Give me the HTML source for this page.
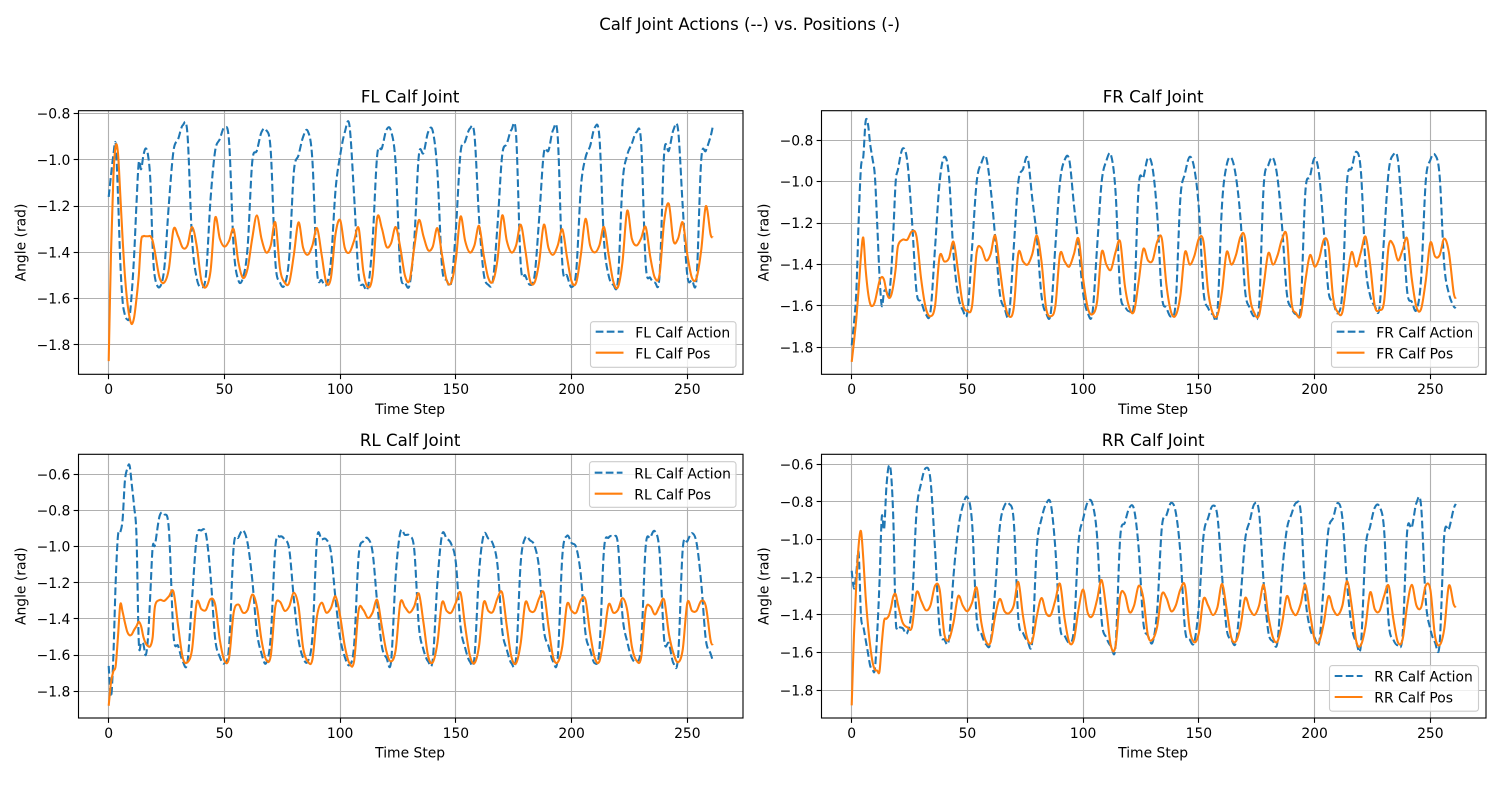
<!DOCTYPE html>
<html lang="en">
<head>
<meta charset="utf-8">
<title>Calf Joint Actions vs. Positions</title>
<style>
html,body{margin:0;padding:0;background:#fff;width:1500px;height:800px;overflow:hidden}
svg{display:block}
text{font-family:"DejaVu Sans","Liberation Sans",sans-serif;fill:#000}
</style>
</head>
<body>
<svg id="figure" xmlns="http://www.w3.org/2000/svg" width="1500" height="800" viewBox="0 0 1500 800">
<rect x="0" y="0" width="1500" height="800" fill="#fff"/>
<text x="749.7" y="30" font-size="16.55" text-anchor="middle">Calf Joint Actions (--) vs. Positions (-)</text>
</svg>
<script>
const xDomain = [-13.05, 274.05];
const xTicks = [0, 50, 100, 150, 200, 250];
const timeSteps = [];
for (let s = 0; s < 20; s += 1) timeSteps.push(s);
for (let s = 20; s <= 260; s += 2) timeSteps.push(s);
timeSteps.push(261);

const flYDomain = [-1.927, -0.787];
const frYDomain = [-1.930, -0.657];
const rlYDomain = [-1.948, -0.489];
const rrYDomain = [-1.947, -0.547];
const flYTicks = [-1.8, -1.6, -1.4, -1.2, -1.0, -0.8];
const frYTicks = [-1.8, -1.6, -1.4, -1.2, -1.0, -0.8];
const rlYTicks = [-1.8, -1.6, -1.4, -1.2, -1.0, -0.8, -0.6];
const rrYTicks = [-1.8, -1.6, -1.4, -1.2, -1.0, -0.8, -0.6];

const flAction = [
-1.16,-1.065,-0.98,-0.93,-1.15,-1.44,-1.61,-1.67,-1.69,-1.68,-1.57,-1.41,-1.19,-1.01,-1.04,-0.98,-0.95,-0.98,-1.09,-1.38,
-1.51,-1.55,-1.47,-1.19,-0.96,-0.91,-0.85,-0.885,-1.34,-1.51,
-1.55,-1.50,-1.17,-0.96,-0.91,-0.86,-0.92,-1.38,-1.52,-1.51,
-1.38,-1.01,-0.96,-0.88,-0.87,-0.96,-1.44,-1.53,-1.54,-1.42,
-1.05,-0.98,-0.90,-0.875,-1.0,-1.48,-1.52,-1.54,-1.44,-1.13,
-0.98,-0.88,-0.85,-1.15,-1.5,-1.54,-1.55,-1.35,-0.98,-0.95,
-0.87,-0.875,-1.02,-1.48,-1.53,-1.54,-1.35,-0.98,-0.97,-0.88,
-0.875,-1.05,-1.46,-1.52,-1.53,-1.3,-0.97,-0.92,-0.865,-0.89,
-1.25,-1.49,-1.54,-1.52,-1.28,-0.98,-0.93,-0.87,-0.89,-1.45,
-1.5,-1.54,-1.5,-1.25,-0.97,-0.96,-0.87,-0.9,-1.45,-1.5,
-1.55,-1.48,-1.12,-0.99,-0.94,-0.86,-0.9,-1.35,-1.5,-1.54,
-1.52,-1.1,-0.98,-0.93,-0.88,-0.92,-1.45,-1.51,-1.53,-1.5,
-0.97,-0.96,-0.87,-0.87,-1.2,-1.5,-1.52,-1.51,-1.0,-0.96,
-0.9,-0.855];
const flPos = [
-1.87,-1.4,-1.08,-0.94,-0.97,-1.15,-1.34,-1.5,-1.61,-1.68,-1.71,-1.68,-1.6,-1.5,-1.35,-1.33,-1.33,-1.33,-1.33,-1.35,
-1.4,-1.51,-1.53,-1.47,-1.30,-1.33,-1.38,-1.37,-1.29,-1.37,
-1.52,-1.55,-1.48,-1.25,-1.34,-1.375,-1.35,-1.30,-1.44,-1.51,
-1.47,-1.34,-1.24,-1.34,-1.40,-1.37,-1.27,-1.47,-1.53,-1.53,
-1.41,-1.27,-1.38,-1.41,-1.37,-1.295,-1.41,-1.53,-1.51,-1.32,
-1.26,-1.38,-1.40,-1.35,-1.295,-1.48,-1.55,-1.50,-1.25,-1.295,
-1.375,-1.36,-1.29,-1.38,-1.5,-1.52,-1.38,-1.26,-1.33,-1.39,
-1.375,-1.295,-1.41,-1.52,-1.53,-1.43,-1.245,-1.35,-1.40,-1.37,
-1.285,-1.41,-1.51,-1.525,-1.43,-1.24,-1.35,-1.40,-1.37,-1.28,
-1.39,-1.52,-1.53,-1.44,-1.28,-1.38,-1.41,-1.37,-1.30,-1.42,
-1.525,-1.53,-1.41,-1.255,-1.37,-1.40,-1.37,-1.29,-1.41,-1.525,
-1.55,-1.44,-1.22,-1.34,-1.37,-1.34,-1.29,-1.42,-1.51,-1.495,
-1.265,-1.19,-1.35,-1.34,-1.27,-1.41,-1.51,-1.51,-1.39,-1.2,
-1.32,-1.335];
const frAction = [
-1.79,-1.68,-1.53,-1.19,-0.93,-0.88,-0.71,-0.72,-0.82,-0.89,-0.97,-1.2,-1.45,-1.60,-1.53,-1.53,-1.555,-1.45,-1.24,-1.0,
-0.94,-0.84,-0.90,-1.18,-1.53,-1.58,-1.64,-1.63,-1.32,-1.0,
-0.88,-0.97,-1.35,-1.55,-1.62,-1.63,-1.32,-1.0,-0.91,-0.88,
-1.03,-1.27,-1.54,-1.61,-1.64,-1.32,-1.0,-0.94,-0.885,-1.08,
-1.27,-1.55,-1.635,-1.635,-1.31,-1.0,-0.895,-0.895,-1.11,-1.31,
-1.54,-1.635,-1.635,-1.32,-1.0,-0.90,-0.87,-1.05,-1.53,-1.60,
-1.625,-1.58,-1.02,-0.98,-0.885,-0.935,-1.16,-1.55,-1.61,-1.65,
-1.58,-1.08,-0.96,-0.88,-0.935,-1.13,-1.53,-1.61,-1.64,-1.63,
-1.11,-0.92,-0.885,-0.975,-1.18,-1.53,-1.61,-1.65,-1.6,-1.02,
-0.92,-0.885,-0.985,-1.225,-1.54,-1.61,-1.64,-1.6,-1.05,-0.975,
-0.885,-0.97,-1.24,-1.53,-1.58,-1.635,-1.53,-1.0,-0.935,-0.855,
-0.95,-1.40,-1.55,-1.6,-1.61,-1.27,-0.95,-0.87,-0.895,-1.18,
-1.53,-1.58,-1.62,-1.47,-1.0,-0.895,-0.87,-0.97,-1.40,-1.54,
-1.6,-1.61];
const frPos = [
-1.87,-1.77,-1.66,-1.52,-1.36,-1.27,-1.42,-1.53,-1.59,-1.60,-1.58,-1.53,-1.48,-1.46,-1.475,-1.53,-1.56,-1.55,-1.5,-1.42,
-1.31,-1.28,-1.28,-1.24,-1.265,-1.47,-1.61,-1.65,-1.6,-1.36,
-1.385,-1.37,-1.29,-1.435,-1.59,-1.625,-1.6,-1.34,-1.32,-1.38,
-1.35,-1.26,-1.42,-1.58,-1.65,-1.61,-1.345,-1.385,-1.4,-1.35,
-1.26,-1.385,-1.61,-1.65,-1.6,-1.35,-1.385,-1.41,-1.35,-1.275,
-1.47,-1.61,-1.64,-1.58,-1.34,-1.40,-1.425,-1.34,-1.29,-1.5,
-1.61,-1.625,-1.48,-1.325,-1.38,-1.38,-1.29,-1.275,-1.5,-1.63,
-1.645,-1.55,-1.34,-1.40,-1.36,-1.275,-1.29,-1.53,-1.635,-1.645,
-1.53,-1.34,-1.40,-1.355,-1.265,-1.275,-1.55,-1.635,-1.645,-1.5,
-1.345,-1.40,-1.355,-1.275,-1.265,-1.58,-1.635,-1.645,-1.48,-1.355,
-1.41,-1.37,-1.28,-1.31,-1.56,-1.63,-1.63,-1.47,-1.34,-1.41,
-1.34,-1.265,-1.40,-1.6,-1.62,-1.58,-1.31,-1.305,-1.38,-1.33,
-1.275,-1.47,-1.605,-1.615,-1.48,-1.295,-1.36,-1.355,-1.275,-1.34,
-1.53,-1.565];
const rlAction = [
-1.66,-1.83,-1.61,-1.2,-0.94,-0.92,-0.85,-0.635,-0.57,-0.55,-0.66,-0.78,-0.94,-1.53,-1.53,-1.54,-1.6,-1.5,-1.255,-1.0,
-0.99,-0.83,-0.82,-0.905,-1.49,-1.55,-1.635,-1.64,-1.29,-0.95,
-0.91,-0.93,-1.16,-1.51,-1.61,-1.645,-1.55,-1.0,-0.95,-0.91,
-0.98,-1.18,-1.47,-1.59,-1.645,-1.5,-1.0,-0.945,-0.96,-1.015,
-1.29,-1.515,-1.615,-1.635,-1.5,-0.96,-0.96,-0.96,-1.03,-1.29,
-1.505,-1.61,-1.655,-1.55,-1.05,-0.97,-0.955,-1.03,-1.31,-1.55,
-1.615,-1.635,-1.16,-0.92,-0.935,-0.94,-1.015,-1.44,-1.57,-1.635,
-1.625,-1.2,-0.935,-0.955,-0.985,-1.09,-1.44,-1.56,-1.635,-1.615,
-1.145,-0.935,-0.955,-0.985,-1.105,-1.46,-1.57,-1.645,-1.615,-1.09,
-0.95,-0.965,-0.995,-1.125,-1.46,-1.55,-1.635,-1.615,-1.05,-0.94,
-0.98,-1.005,-1.16,-1.48,-1.57,-1.645,-1.57,-1.015,-0.95,-0.945,
-0.985,-1.385,-1.525,-1.615,-1.635,-1.55,-1.0,-0.95,-0.915,-1.03,
-1.515,-1.535,-1.645,-1.61,-1.015,-0.97,-0.925,-0.98,-1.2,-1.515,
-1.59,-1.63];
const rlPos = [
-1.88,-1.75,-1.69,-1.66,-1.5,-1.32,-1.36,-1.42,-1.47,-1.49,-1.485,-1.46,-1.44,-1.415,-1.44,-1.5,-1.535,-1.55,-1.55,-1.5,
-1.33,-1.295,-1.30,-1.275,-1.25,-1.44,-1.615,-1.64,-1.57,-1.31,
-1.345,-1.35,-1.29,-1.32,-1.515,-1.63,-1.615,-1.365,-1.32,-1.365,
-1.35,-1.265,-1.33,-1.515,-1.625,-1.605,-1.33,-1.305,-1.355,-1.33,
-1.255,-1.33,-1.56,-1.635,-1.625,-1.385,-1.31,-1.365,-1.34,-1.275,
-1.385,-1.55,-1.645,-1.635,-1.35,-1.35,-1.395,-1.365,-1.295,-1.44,
-1.58,-1.635,-1.57,-1.31,-1.335,-1.365,-1.33,-1.26,-1.42,-1.605,
-1.64,-1.535,-1.31,-1.355,-1.365,-1.31,-1.255,-1.44,-1.6,-1.645,
-1.55,-1.31,-1.355,-1.36,-1.285,-1.255,-1.44,-1.61,-1.645,-1.535,
-1.31,-1.355,-1.355,-1.285,-1.255,-1.44,-1.61,-1.64,-1.55,-1.32,
-1.355,-1.365,-1.295,-1.295,-1.48,-1.615,-1.635,-1.495,-1.32,-1.365,
-1.35,-1.285,-1.35,-1.55,-1.63,-1.615,-1.35,-1.33,-1.375,-1.33,
-1.295,-1.48,-1.59,-1.64,-1.57,-1.31,-1.355,-1.355,-1.30,-1.33,
-1.515,-1.545];
const rrAction = [
-1.165,-1.26,-1.175,-1.07,-1.405,-1.46,-1.53,-1.6,-1.67,-1.69,-1.69,-1.5,-1.23,-0.88,-0.945,-0.72,-0.61,-0.65,-0.9,-1.42,
-1.46,-1.47,-1.495,-1.35,-0.855,-0.70,-0.62,-0.68,-1.05,-1.475,
-1.53,-1.53,-1.19,-0.945,-0.82,-0.775,-0.91,-1.42,-1.5,-1.555,
-1.545,-1.265,-0.93,-0.82,-0.81,-0.90,-1.42,-1.495,-1.54,-1.54,
-1.035,-0.89,-0.81,-0.81,-1.05,-1.46,-1.51,-1.545,-1.475,-1.015,
-0.89,-0.80,-0.81,-0.98,-1.43,-1.52,-1.565,-1.565,-0.99,-0.91,
-0.83,-0.84,-1.05,-1.44,-1.51,-1.545,-1.37,-0.935,-0.87,-0.805,
-0.855,-1.07,-1.475,-1.53,-1.545,-1.35,-0.98,-0.885,-0.82,-0.875,
-1.19,-1.475,-1.53,-1.545,-1.31,-1.0,-0.90,-0.81,-0.855,-1.23,
-1.49,-1.54,-1.54,-1.175,-0.945,-0.865,-0.805,-0.855,-1.30,-1.47,
-1.52,-1.545,-1.23,-0.945,-0.885,-0.805,-0.885,-1.23,-1.46,-1.545,
-1.56,-1.05,-0.93,-0.83,-0.825,-0.945,-1.44,-1.53,-1.56,-1.51,
-0.955,-0.935,-0.805,-0.82,-1.32,-1.475,-1.545,-1.555,-0.98,-0.945,
-0.84,-0.81];
const rrPos = [
-1.88,-1.5,-1.23,-1.03,-0.955,-1.1,-1.30,-1.45,-1.565,-1.65,-1.69,-1.695,-1.70,-1.55,-1.43,-1.42,-1.405,-1.36,-1.30,-1.29,
-1.345,-1.44,-1.465,-1.465,-1.28,-1.325,-1.375,-1.35,-1.245,-1.265,
-1.50,-1.53,-1.44,-1.30,-1.35,-1.38,-1.335,-1.255,-1.44,-1.54,
-1.545,-1.405,-1.315,-1.38,-1.39,-1.35,-1.225,-1.405,-1.53,-1.54,
-1.405,-1.31,-1.39,-1.40,-1.32,-1.235,-1.42,-1.545,-1.53,-1.37,
-1.265,-1.39,-1.405,-1.32,-1.215,-1.37,-1.565,-1.565,-1.30,-1.29,
-1.385,-1.35,-1.245,-1.31,-1.51,-1.53,-1.46,-1.29,-1.31,-1.38,
-1.35,-1.265,-1.245,-1.475,-1.545,-1.495,-1.315,-1.35,-1.40,-1.36,
-1.235,-1.37,-1.52,-1.54,-1.46,-1.31,-1.37,-1.40,-1.35,-1.24,
-1.405,-1.52,-1.54,-1.44,-1.30,-1.37,-1.40,-1.34,-1.24,-1.39,
-1.53,-1.54,-1.44,-1.30,-1.37,-1.40,-1.35,-1.22,-1.35,-1.54,
-1.56,-1.46,-1.28,-1.37,-1.38,-1.30,-1.245,-1.42,-1.545,-1.53,
-1.35,-1.24,-1.35,-1.36,-1.245,-1.265,-1.51,-1.56,-1.475,-1.245,
-1.34,-1.36];

const SVG_NS = 'http://www.w3.org/2000/svg';
const figure = document.getElementById('figure');
const BLUE = '#1f77b4', ORANGE = '#ff7f0e';

function mk(parent, tag, attrs, content) {
  const el = document.createElementNS(SVG_NS, tag);
  for (const k in attrs) el.setAttribute(k, attrs[k]);
  if (content !== undefined) el.textContent = content;
  parent.appendChild(el);
  return el;
}
const snap = v => Math.round(v - 0.5) + 0.5;
const fmtTick = v => (v < 0 ? '\u2212' : '') + Math.abs(v).toFixed(1);

// Smooth path through every data point (Catmull-Rom control points).
function smoothPath(px) {
  const f = n => n.toFixed(2);
  let d = 'M' + f(px[0][0]) + ' ' + f(px[0][1]);
  for (let i = 0; i < px.length - 1; i++) {
    const p0 = px[Math.max(i - 1, 0)], p1 = px[i], p2 = px[i + 1], p3 = px[Math.min(i + 2, px.length - 1)];
    const c1x = p1[0] + (p2[0] - p0[0]) / 6, c1y = p1[1] + (p2[1] - p0[1]) / 6;
    const c2x = p2[0] - (p3[0] - p1[0]) / 6, c2y = p2[1] - (p3[1] - p1[1]) / 6;
    d += 'C' + f(c1x) + ' ' + f(c1y) + ' ' + f(c2x) + ' ' + f(c2y) + ' ' + f(p2[0]) + ' ' + f(p2[1]);
  }
  return d;
}

function drawPanel(cfg) {
  const { key, label, left, right, top, bottom, yDomain, yTicks, action, pos, legend } = cfg;
  const xScale = v => left + (v - xDomain[0]) / (xDomain[1] - xDomain[0]) * (right - left);
  const yScale = v => bottom - (v - yDomain[0]) / (yDomain[1] - yDomain[0]) * (bottom - top);

  const g = mk(figure, 'g', {});
  
  

  const clipId = key + '-clip';
  const defs = mk(g, 'defs', {});
  const clip = mk(defs, 'clipPath', { id: clipId });
  mk(clip, 'rect', { x: left, y: top, width: right - left, height: bottom - top });

  // grid and ticks
  xTicks.forEach(t => {
    const x = snap(xScale(t));
    const grid = mk(g, 'line', { x1: x, x2: x, y1: top, y2: bottom, stroke: '#b0b0b0', 'stroke-width': 1.11 });
    
    
    const tick = mk(g, 'line', { x1: x, x2: x, y1: bottom, y2: bottom + 4.86, stroke: '#000', 'stroke-width': 1.11 });
    
    
    const lab = mk(g, 'text', { x: xScale(t), y: bottom + 19.8, 'font-size': 13.89, 'text-anchor': 'middle' }, String(t));
    
    
  });
  yTicks.forEach(t => {
    const y = snap(yScale(t));
    const grid = mk(g, 'line', { x1: left, x2: right, y1: y, y2: y, stroke: '#b0b0b0', 'stroke-width': 1.11 });
    
    
    const tick = mk(g, 'line', { x1: left - 4.86, x2: left, y1: y, y2: y, stroke: '#000', 'stroke-width': 1.11 });
    
    
    const lab = mk(g, 'text', { x: left - 8.2, y: yScale(t) + 5, 'font-size': 13.89, 'text-anchor': 'end' }, fmtTick(t));
    
    
  });

  // series
  const toPx = arr => arr.map((v, i) => [xScale(timeSteps[i]), yScale(v)]);
  const actionLine = mk(g, 'path', { d: smoothPath(toPx(action)), fill: 'none', stroke: BLUE, 'stroke-width': 2.08, 'stroke-dasharray': '7.71 3.33', 'stroke-linejoin': 'round', 'clip-path': 'url(#' + clipId + ')' });
  
  
  const posLine = mk(g, 'path', { d: smoothPath(toPx(pos)), fill: 'none', stroke: ORANGE, 'stroke-width': 2.08, 'stroke-linejoin': 'round', 'clip-path': 'url(#' + clipId + ')' });
  
  

  // spines
  const frame = mk(g, 'rect', { x: left, y: top, width: right - left, height: bottom - top, fill: 'none', stroke: '#000', 'stroke-width': 1.11 });
  
  

  // labels
  const title = mk(g, 'text', { x: (left + right) / 2 - 0.6, y: top - 8.4, 'font-size': 16.67, 'text-anchor': 'middle' }, label + ' Calf Joint');
  
  
  const xTitle = mk(g, 'text', { x: (left + right) / 2 - 0.6, y: bottom + 39.6, 'font-size': 13.89, 'text-anchor': 'middle' }, 'Time Step');
  
  
  const yx = left - 53.2, yy = (top + bottom) / 2;
  const yTitle = mk(g, 'text', { x: yx, y: yy, 'font-size': 13.89, 'text-anchor': 'middle', transform: 'rotate(-90 ' + yx + ' ' + yy + ')' }, 'Angle (rad)');
  
  

  // legend
  const lg = mk(g, 'g', {});
  
  
  const box = mk(lg, 'rect', { x: legend.x, y: legend.y, width: legend.w, height: 45.6, rx: 2.8, ry: 2.8, fill: '#fff', 'fill-opacity': 0.8, stroke: '#ccc', 'stroke-width': 1.11 });
  
  
  const hx = legend.x + 5.2, tx = hx + 39.6;
  const y1 = legend.y + legend.rowGap, y2 = y1 + 21;
  const k1 = mk(lg, 'line', { x1: hx, x2: hx + 27.8, y1: y1, y2: y1, stroke: BLUE, 'stroke-width': 2.08, 'stroke-dasharray': '7.71 3.33' });
  
  
  const t1 = mk(lg, 'text', { x: tx, y: y1 + 5.6, 'font-size': 13.89 }, label + ' Calf Action');
  
  
  const k2 = mk(lg, 'line', { x1: hx, x2: hx + 27.8, y1: y2, y2: y2, stroke: ORANGE, 'stroke-width': 2.08 });
  
  
  const t2 = mk(lg, 'text', { x: tx, y: y2 + 5.6, 'font-size': 13.89 }, label + ' Calf Pos');
  
  
}

drawPanel({ key: 'fl', label: 'FL', left: 78.5, right: 743, top: 110.7, bottom: 374.3, yDomain: flYDomain, yTicks: flYTicks, action: flAction, pos: flPos, legend: { x: 590.5, y: 321.7, w: 145.5, rowGap: 10 } });
drawPanel({ key: 'fr', label: 'FR', left: 821.5, right: 1486, top: 110.7, bottom: 374.3, yDomain: frYDomain, yTicks: frYTicks, action: frAction, pos: frPos, legend: { x: 1331.5, y: 321.7, w: 147, rowGap: 10 } });
drawPanel({ key: 'rl', label: 'RL', left: 78.5, right: 743, top: 454.3, bottom: 718, yDomain: rlYDomain, yTicks: rlYTicks, action: rlAction, pos: rlPos, legend: { x: 589.5, y: 461.7, w: 146.5, rowGap: 11 } });
drawPanel({ key: 'rr', label: 'RR', left: 821.5, right: 1486, top: 454.3, bottom: 718, yDomain: rrYDomain, yTicks: rrYTicks, action: rrAction, pos: rrPos, legend: { x: 1329.5, y: 665.6, w: 149, rowGap: 10.4 } });
</script>
</body>
</html>
